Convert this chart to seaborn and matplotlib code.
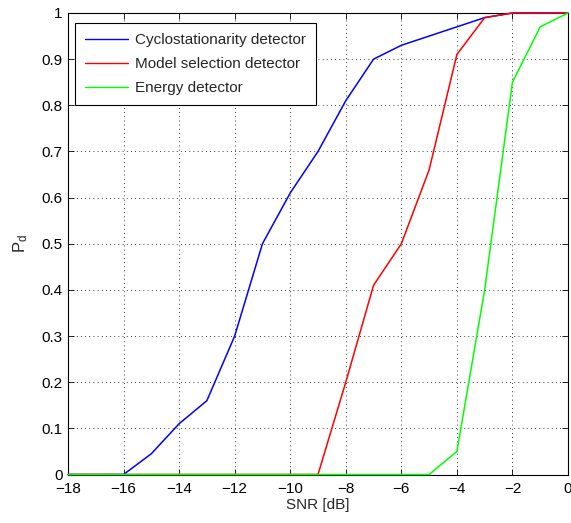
import numpy as np
import pandas as pd
import matplotlib
matplotlib.use("Agg")
import matplotlib.pyplot as plt
import seaborn as sns

snr = list(range(-18, 1))
cyclo = [0, 0, 0, 0.045, 0.11, 0.16, 0.30, 0.50, 0.61, 0.70, 0.81, 0.90, 0.93, 0.95, 0.97, 0.99, 1.0, 1.0, 1.0]
model = [0, 0, 0, 0, 0, 0, 0, 0, 0, 0, 0.20, 0.41, 0.50, 0.66, 0.91, 0.99, 1.0, 1.0, 1.0]
energy = [0, 0, 0, 0, 0, 0, 0, 0, 0, 0, 0, 0, 0, 0, 0.05, 0.40, 0.85, 0.97, 1.0]
names = ["Cyclostationarity detector", "Model selection detector", "Energy detector"]
xticks = list(range(-18, 1, 2))
yticks = [0, 0.1, 0.2, 0.3, 0.4, 0.5, 0.6, 0.7, 0.8, 0.9, 1]

sns.set_style("ticks")
plt.rcParams["font.family"] = ["Liberation Sans", "DejaVu Sans"]
plt.rcParams["mathtext.fontset"] = "custom"
plt.rcParams["mathtext.rm"] = "Liberation Sans"
plt.rcParams["mathtext.it"] = "Liberation Sans"

df = pd.DataFrame({
    "SNR": snr * 3,
    "Pd": cyclo + model + energy,
    "det": [names[0]] * len(snr) + [names[1]] * len(snr) + [names[2]] * len(snr),
})

fig = plt.figure(figsize=(5.71, 5.23), dpi=100)
ax = fig.add_axes([68 / 571, 48.5 / 523, 500 / 571, 461.5 / 523])
sns.lineplot(data=df, x="SNR", y="Pd", hue="det", hue_order=names,
             palette=["#0000ff", "#ff0000", "#00ff00"], linewidth=1.1, ax=ax)
for ln in ax.get_lines():
    ln.set_clip_on(False)
    ln.set_zorder(3)

ax.set_xlim(-18, 0)
ax.set_ylim(0, 1)
ax.set_xticks(xticks)
ax.set_xticklabels(["\u2212%d" % abs(v) if v < 0 else "0" for v in xticks])
ax.set_yticks(yticks)
ax.set_yticklabels(["0" if v == 0 else ("1" if v == 1 else "%.1f" % v) for v in yticks])
ax.tick_params(direction="in", top=True, right=True, labelsize=11, length=4, width=0.6, colors="black")
ax.tick_params(axis="x", pad=5.5)
ax.tick_params(axis="y", pad=4)
ax.grid(True, color="black", linestyle=(0, (1, 4)), linewidth=0.6)
for s in ax.spines.values():
    s.set_visible(True)
    s.set_linewidth(0.8)
    s.set_color("black")
    s.set_zorder(2.5)
ax.set_xlabel("SNR [dB]", fontsize=11, labelpad=1)
ax.set_ylabel(r"$\mathregular{P_d}$", fontsize=12, labelpad=8)

leg = ax.legend(loc="upper left", fontsize=11, frameon=True, fancybox=False,
                edgecolor="black", framealpha=1, handlelength=2.8,
                bbox_to_anchor=(0.014, 0.978), borderaxespad=0.0,
                labelspacing=0.65, handletextpad=0.45, borderpad=0.66)
leg.get_frame().set_linewidth(0.8)
leg.set_zorder(5)
for line in leg.get_lines():
    line.set_linewidth(1.0)

fig.savefig("out.png", dpi=100)
